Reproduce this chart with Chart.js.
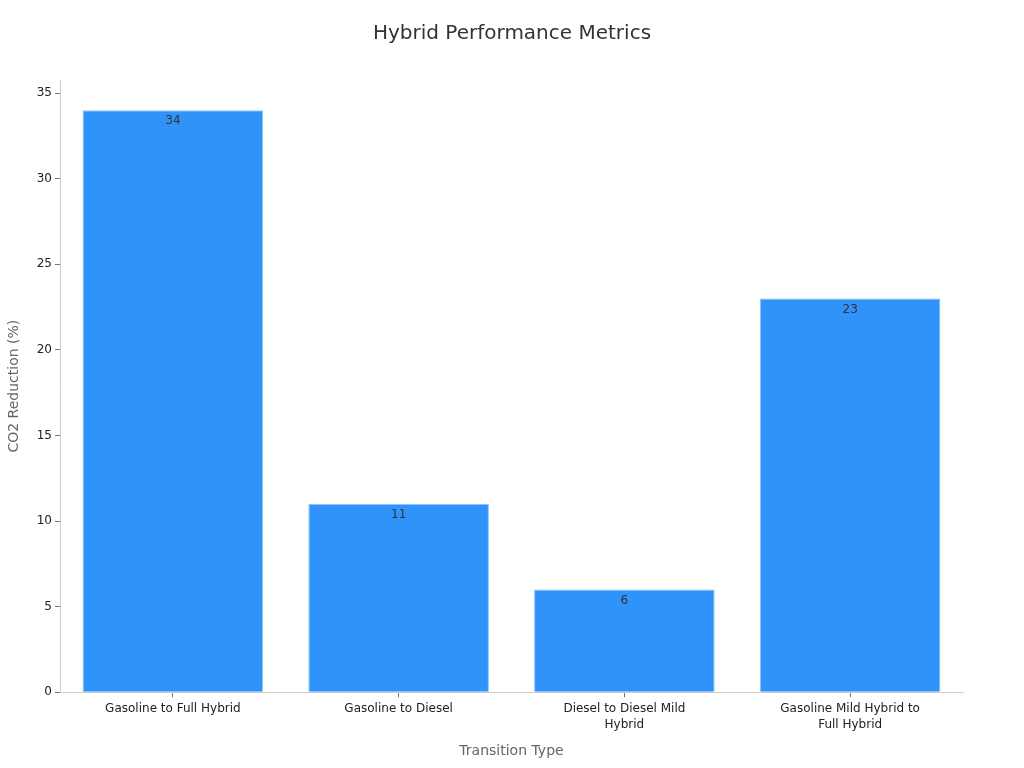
<!DOCTYPE html>
<html>
<head>
<meta charset="utf-8">
<title>Hybrid Performance Metrics</title>
<script src="https://cdn.jsdelivr.net/npm/chart.js@4.4.0/dist/chart.umd.min.js"></script>
<style>
    html, body { margin: 0; padding: 0; background: #fff; }
    #wrap { width: 1024px; height: 768px; }
</style>
</head>
<body>
<div id="wrap"><canvas id="hybridChart" width="1024" height="768"></canvas></div>
<script>
var chartTitle = 'Hybrid Performance Metrics';
var categories = [
    'Gasoline to Full Hybrid',
    'Gasoline to Diesel',
    ['Diesel to Diesel Mild', 'Hybrid'],
    ['Gasoline Mild Hybrid to', 'Full Hybrid']
];
var co2Reduction = [34, 11, 6, 23];
var yTicks = [0, 5, 10, 15, 20, 25, 30, 35];

// value just inside the top of each bar, and the title centred on the canvas
var barLabels = {
    id: 'barLabels',
    afterDatasetsDraw: function(chart) {
        var ctx = chart.ctx;
        var meta = chart.getDatasetMeta(0);
        ctx.save();
        ctx.font = '12px "DejaVu Sans"';
        ctx.fillStyle = '#333';
        ctx.textAlign = 'center';
        ctx.textBaseline = 'top';
        meta.data.forEach(function(bar, i) {
            ctx.fillText(co2Reduction[i], bar.x, bar.y + 5);
        });
        ctx.font = '20px "DejaVu Sans"';
        ctx.textBaseline = 'middle';
        ctx.fillText(chartTitle, chart.width / 2, 34);
        ctx.restore();
    }
};

document.addEventListener('DOMContentLoaded', function() {
    Chart.defaults.font.family = '"DejaVu Sans", sans-serif';
    var ctx = document.getElementById('hybridChart').getContext('2d');
    var hybridChart = new Chart(ctx, {
        type: 'bar',
        data: {
            labels: categories,
            datasets: [{
                label: 'CO2 Reduction (%)',
                data: co2Reduction,
                backgroundColor: '#3093f9',
                borderColor: '#8cc4fb',
                borderWidth: 1,
                barPercentage: 0.8,
                categoryPercentage: 1.0
            }]
        },
        options: {
            responsive: false,
            animation: false,
            layout: { padding: { left: 2, right: 61, top: 80, bottom: 4 } },
            scales: {
                x: {
                    grid: { display: true, offset: false, drawOnChartArea: false, drawTicks: true, tickLength: 5, color: '#777' },
                    border: { color: '#ccc' },
                    ticks: { color: '#222', font: { size: 12, lineHeight: 1.33 }, padding: 4, maxRotation: 0 },
                    title: { display: true, text: 'Transition Type', color: '#666', font: { size: 14 }, padding: { top: 6 } }
                },
                y: {
                    min: 0,
                    max: 35.77,
                    afterBuildTicks: function(axis) {
                        axis.ticks = yTicks.map(function(v) { return { value: v }; });
                    },
                    afterFit: function(axis) {
                        axis.width = 58;
                    },
                    grid: { display: true, drawOnChartArea: false, drawTicks: true, tickLength: 5, color: '#777' },
                    border: { color: '#ccc' },
                    ticks: { color: '#222', font: { size: 12 } },
                    title: { display: true, text: 'CO2 Reduction (%)', color: '#666', font: { size: 14 } }
                }
            },
            plugins: {
                legend: { display: false },
                tooltip: { enabled: false },
                title: { display: false }
            }
        },
        plugins: [barLabels]
    });
});
</script>
</body>
</html>
